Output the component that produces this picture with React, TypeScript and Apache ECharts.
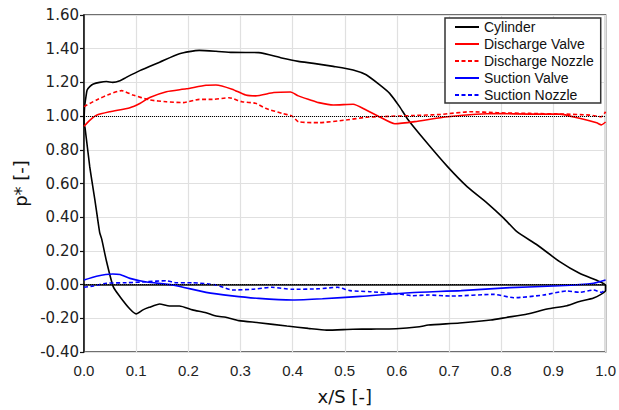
import React, { useEffect, useRef } from "react";
import * as echarts from "echarts";

const seriesNames = ["Cylinder", "Discharge Valve", "Discharge Nozzle", "Suction Valve", "Suction Nozzle"];

const cylinder: [number, number][] = [
  [0.0, 0.95], [0.001, 1.05], [0.004, 1.12], [0.006, 1.155], [0.011, 1.175], [0.018, 1.19],
  [0.03, 1.2], [0.043, 1.205], [0.055, 1.2], [0.069, 1.21], [0.081, 1.23], [0.107, 1.27],
  [0.145, 1.32], [0.183, 1.37], [0.221, 1.39], [0.253, 1.385], [0.284, 1.378], [0.335, 1.377],
  [0.379, 1.345], [0.411, 1.325], [0.44, 1.313], [0.478, 1.295], [0.516, 1.274], [0.541, 1.245],
  [0.567, 1.185], [0.586, 1.135], [0.605, 1.056], [0.621, 0.98], [0.653, 0.858], [0.697, 0.7],
  [0.735, 0.58], [0.773, 0.484], [0.805, 0.393], [0.83, 0.314], [0.869, 0.235], [0.912, 0.136],
  [0.95, 0.067], [0.989, 0.017], [1.0, -0.005],
  [1.0, -0.035], [0.977, -0.08], [0.95, -0.1], [0.926, -0.125], [0.888, -0.145], [0.85, -0.175],
  [0.81, -0.195], [0.78, -0.21], [0.72, -0.228], [0.66, -0.24], [0.643, -0.25], [0.598, -0.262],
  [0.55, -0.264], [0.516, -0.265], [0.465, -0.27], [0.43, -0.26], [0.389, -0.246], [0.335, -0.226],
  [0.297, -0.214], [0.272, -0.194], [0.253, -0.186], [0.234, -0.167], [0.208, -0.15], [0.183, -0.127],
  [0.164, -0.127], [0.145, -0.115], [0.125, -0.135], [0.113, -0.15], [0.1, -0.174], [0.088, -0.145],
  [0.069, -0.072], [0.056, -0.012], [0.043, 0.14], [0.034, 0.27], [0.03, 0.31], [0.021, 0.5],
  [0.011, 0.7], [0.002, 0.93], [0.0, 0.95],
];

const dischargeValve: [number, number][] = [
  [0.0, 0.94], [0.011, 0.975], [0.024, 1.005], [0.05, 1.026], [0.088, 1.05], [0.107, 1.075],
  [0.126, 1.11], [0.158, 1.145], [0.196, 1.162], [0.234, 1.183], [0.253, 1.185], [0.284, 1.16],
  [0.31, 1.125], [0.329, 1.12], [0.364, 1.14], [0.396, 1.143], [0.411, 1.12], [0.434, 1.096],
  [0.45, 1.08], [0.478, 1.066], [0.516, 1.07], [0.541, 1.036], [0.567, 0.995], [0.596, 0.955],
  [0.634, 0.967], [0.697, 0.996], [0.792, 1.015], [0.855, 1.012], [0.912, 1.012], [0.95, 0.987],
  [0.983, 0.96], [0.992, 0.948], [1.0, 0.965],
];

const dischargeNozzle: [number, number][] = [
  [0.0, 1.056], [0.024, 1.096], [0.05, 1.131], [0.072, 1.151], [0.094, 1.125], [0.126, 1.096],
  [0.158, 1.085], [0.19, 1.08], [0.221, 1.099], [0.246, 1.099], [0.278, 1.109], [0.303, 1.085],
  [0.329, 1.076], [0.348, 1.046], [0.38, 1.016], [0.399, 1.0], [0.411, 0.967], [0.45, 0.961],
  [0.503, 0.977], [0.541, 0.993], [0.57, 0.997], [0.63, 1.003], [0.684, 1.01], [0.741, 1.026],
  [0.792, 1.02], [0.855, 1.016], [0.919, 1.012], [0.97, 1.006], [0.992, 0.996], [1.0, 1.026],
];

const suctionValve: [number, number][] = [
  [0.0, 0.027], [0.024, 0.05], [0.055, 0.063], [0.069, 0.06], [0.088, 0.037], [0.12, 0.015],
  [0.17, -0.002], [0.234, -0.046], [0.284, -0.067], [0.335, -0.082], [0.4, -0.091], [0.457, -0.084],
  [0.53, -0.07], [0.625, -0.048], [0.723, -0.036], [0.817, -0.018], [0.912, -0.007], [0.977, 0.008],
  [1.0, 0.027],
];

const suctionNozzle: [number, number][] = [
  [0.0, -0.016], [0.018, -0.008], [0.043, 0.008], [0.081, 0.011], [0.12, 0.017], [0.158, 0.023],
  [0.177, 0.011], [0.208, 0.011], [0.253, -0.002], [0.284, -0.032], [0.322, -0.028], [0.36, -0.016],
  [0.399, -0.028], [0.45, -0.025], [0.486, -0.016], [0.51, -0.036], [0.548, -0.042], [0.605, -0.056],
  [0.63, -0.066], [0.66, -0.062], [0.703, -0.068], [0.786, -0.058], [0.824, -0.078], [0.881, -0.062],
  [0.926, -0.038], [0.95, -0.046], [0.977, -0.032], [0.992, -0.046], [1.0, -0.026],
];

const referenceLevels = [1.0, 0.0];

const seriesData = [cylinder, dischargeValve, dischargeNozzle, suctionValve, suctionNozzle];
const seriesColors = ["#000000", "#ff0000", "#ff0000", "#0000ff", "#0000ff"];
const seriesDash: any[] = ["solid", "solid", [4, 2.5], "solid", [4, 2.5]];

export default function App() {
  const ref = useRef<HTMLDivElement>(null);
  useEffect(() => {
    if (!ref.current) return;
    const chart = echarts.init(ref.current, null, { renderer: "svg" });
    const series: any[] = seriesNames.map((name, i) => ({
      name,
      type: "line",
      data: seriesData[i],
      symbol: "none",
      smooth: 0.2,
      lineStyle: { color: seriesColors[i], width: 1.6, type: seriesDash[i] },
      itemStyle: { color: seriesColors[i] },
      z: 3,
    }));
    series.push({
      name: "ref",
      type: "line",
      data: [],
      symbol: "none",
      markLine: {
        silent: true,
        symbol: "none",
        label: { show: false },
        lineStyle: { color: "#000", width: 1, type: [1, 1] },
        data: referenceLevels.map((v) => ({ yAxis: v })),
      },
      z: 2,
    });
    chart.setOption({
      animation: false,
      backgroundColor: "#fff",
      grid: {
        left: 84,
        right: 10,
        top: 15,
        bottom: 58,
        show: true,
        borderColor: "#404040",
        borderWidth: 1.5,
      },
      legend: {
        data: seriesNames,
        orient: "vertical",
        left: 445,
        top: 18,
        itemWidth: 24,
        itemHeight: 14,
        itemGap: 3,
        padding: [2, 7, 1, 9],
        borderColor: "#333",
        borderWidth: 1.5,
        backgroundColor: "#fff",
        borderRadius: 0,
        itemStyle: { color: "transparent", borderWidth: 0, opacity: 0 },
        textStyle: { fontSize: 14, fontFamily: "Liberation Sans, Arial, sans-serif", color: "#111" },
      },
      xAxis: {
        type: "value",
        min: 0,
        max: 1,
        interval: 0.1,
        name: "x/S [-]",
        nameLocation: "middle",
        nameGap: 35,
        nameTextStyle: { fontSize: 18, fontFamily: "DejaVu Sans, sans-serif", color: "#111" },
        axisLine: { show: true, lineStyle: { color: "#111", width: 1.5 } },
        axisTick: { show: false },
        axisLabel: {
          fontSize: 15,
          fontFamily: "Liberation Sans, Arial, sans-serif",
          color: "#222",
          margin: 11,
          formatter: (v: number) => v.toFixed(1),
        },
        splitLine: { show: true, lineStyle: { color: "#e0e0e0", width: 1.2 } },
      },
      yAxis: {
        type: "value",
        min: -0.4,
        max: 1.6,
        interval: 0.2,
        name: "p* [-]",
        nameLocation: "middle",
        nameGap: 41,
        nameRotate: 90,
        nameTextStyle: { fontSize: 18, fontFamily: "DejaVu Sans, sans-serif", color: "#111" },
        axisLine: { show: true, lineStyle: { color: "#111", width: 1.5 } },
        axisTick: { show: true, length: 4, lineStyle: { color: "#111", width: 1.2 } },
        axisLabel: {
          fontSize: 15,
          fontFamily: "DejaVu Sans, sans-serif",
          color: "#222",
          margin: 5,
          formatter: (v: number) => v.toFixed(2),
        },
        splitLine: { show: true, lineStyle: { color: "#e0e0e0", width: 1.2 } },
      },
      series,
    });
    return () => chart.dispose();
  }, []);
  return <div ref={ref} style={{ width: 619, height: 410, position: "fixed", left: 0, top: 0 }} />;
}
